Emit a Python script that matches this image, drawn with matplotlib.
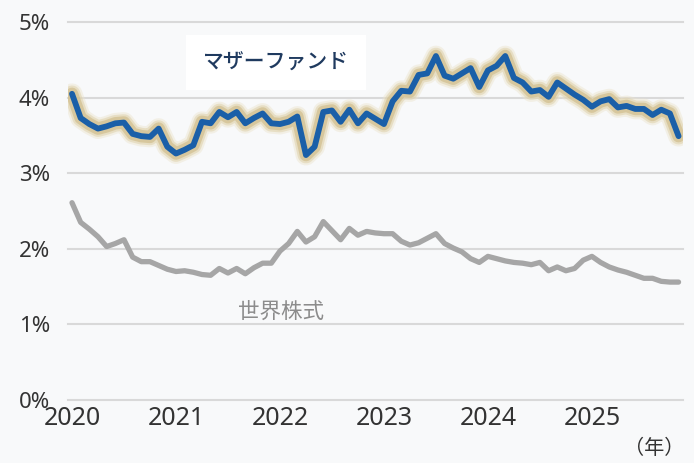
import matplotlib.pyplot as plt
import matplotlib.patheffects as pe
import numpy as np

# monthly values, Jan 2020 - Nov 2025 (%)
mother_fund = [4.05, 3.73, 3.65, 3.59, 3.62, 3.66, 3.67, 3.52, 3.49, 3.48,
               3.59, 3.35, 3.26, 3.31, 3.37, 3.68, 3.66, 3.81, 3.74, 3.81,
               3.66, 3.73, 3.79, 3.66, 3.65, 3.68, 3.75, 3.24, 3.35, 3.81,
               3.83, 3.68, 3.84, 3.66, 3.79, 3.72, 3.65, 3.95, 4.09, 4.08,
               4.30, 4.32, 4.55, 4.29, 4.25, 4.32, 4.39, 4.14, 4.36, 4.42,
               4.55, 4.26, 4.20, 4.08, 4.10, 4.01, 4.20, 4.12, 4.04, 3.97,
               3.88, 3.95, 3.98, 3.87, 3.89, 3.85, 3.85, 3.77, 3.84, 3.79,
               3.49]
world_equity = [2.61, 2.35, 2.26, 2.16, 2.03, 2.07, 2.12, 1.89, 1.83, 1.83,
                1.78, 1.73, 1.70, 1.71, 1.69, 1.66, 1.65, 1.74, 1.68, 1.74,
                1.67, 1.75, 1.81, 1.81, 1.97, 2.07, 2.23, 2.09, 2.16, 2.36,
                2.24, 2.12, 2.27, 2.18, 2.23, 2.21, 2.20, 2.20, 2.10, 2.05,
                2.08, 2.14, 2.20, 2.07, 2.01, 1.96, 1.87, 1.82, 1.90, 1.87,
                1.84, 1.82, 1.81, 1.79, 1.82, 1.71, 1.76, 1.71, 1.74, 1.85,
                1.90, 1.82, 1.76, 1.72, 1.69, 1.65, 1.61, 1.61, 1.57, 1.56,
                1.56]
years = ['2020', '2021', '2022', '2023', '2024', '2025']
yticks = [0, 1, 2, 3, 4, 5]

months = np.arange(len(mother_fund))

num_font = ['Noto Sans', 'Noto Sans CJK JP', 'DejaVu Sans']
jp_font = ['Noto Sans CJK JP', 'DejaVu Sans']

fig = plt.figure(figsize=(6.94, 4.63), dpi=100)
fig.patch.set_facecolor('#f8f9fa')
ax = fig.add_axes([0.098, 0.136, 0.886, 0.8165])
ax.set_facecolor('#f8f9fa')

ax.plot(months, world_equity, color='#a6a6a6', lw=3.8,
        solid_joinstyle='round', solid_capstyle='round', zorder=3)

# soft golden halo round the fund line
glow = [pe.Stroke(linewidth=15, foreground='#ece4cc', alpha=0.45),
        pe.Stroke(linewidth=12, foreground='#ddcfa4', alpha=0.5),
        pe.Stroke(linewidth=9, foreground='#cdb984', alpha=0.6),
        pe.Normal()]
ax.plot(months, mother_fund, color='#1a5fa8', lw=4.2,
        solid_joinstyle='round', solid_capstyle='round', zorder=4,
        path_effects=glow)

ax.set_xlim(-0.46, 70.5)
ax.set_ylim(0, 5)
ax.set_yticks(yticks)
ax.set_yticklabels([f'{v}%' for v in yticks], fontfamily=num_font,
                   fontsize=16, color='#333333')
ax.set_xticks(np.arange(len(years)) * 12)
ax.set_xticklabels(years, fontfamily=num_font, fontsize=18, color='#333333')
ax.tick_params(axis='both', length=0)
ax.tick_params(axis='y', pad=13)
ax.tick_params(axis='x', pad=4)
ax.grid(axis='y', color='#d9d9d9', lw=1.5, zorder=1)
ax.set_axisbelow(True)
for s in ax.spines.values():
    s.set_visible(False)
for gl in ax.get_ygridlines():
    gl.set_clip_on(False)

ax.text(0.338, 0.893, 'マザーファンド', transform=ax.transAxes,
        fontfamily=jp_font, fontsize=15, fontweight='medium', color='#1f3a5f',
        ha='center', va='center', zorder=5,
        bbox=dict(boxstyle='square,pad=0.8', facecolor='white',
                  edgecolor='none'))
ax.text(0.346, 0.233, '世界株式', transform=ax.transAxes,
        fontfamily=jp_font, fontsize=15.5, color='#8c8c8c',
        ha='center', va='center')
fig.text(0.942, 0.032, '（年）', fontfamily=jp_font, fontsize=14.5,
         color='#333333', ha='center', va='center')

fig.savefig('out.png', dpi=100, facecolor=fig.get_facecolor())
